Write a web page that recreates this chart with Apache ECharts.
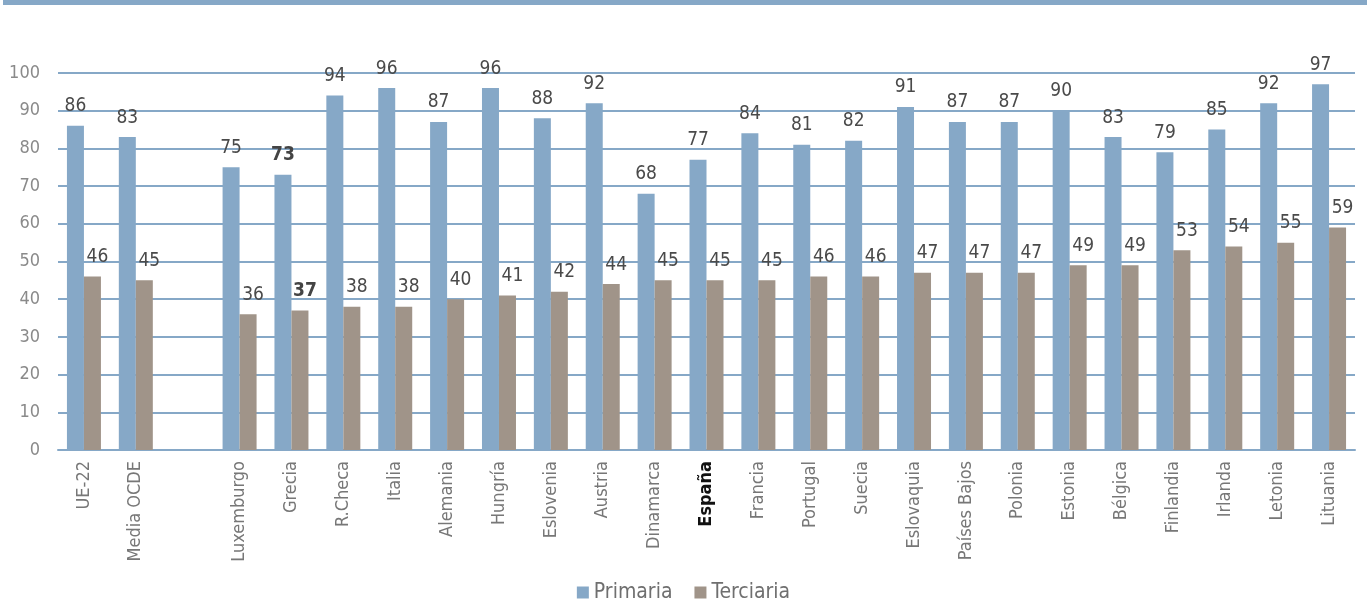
<!DOCTYPE html>
<html>
<head>
<meta charset="utf-8">
<script src="https://cdn.jsdelivr.net/npm/echarts@6/dist/echarts.min.js"></script>
<style>
  html, body { margin: 0; padding: 0; background: #fff; }
  #main { width: 1367px; height: 602px; }
</style>
</head>
<body>
<div id="main"></div>
<script>
// categories (empty slot between the averages and the countries)
var paises = ['UE-22', 'Media OCDE', '', 'Luxemburgo', 'Grecia', 'R.Checa', 'Italia', 'Alemania',
  'Hungría', 'Eslovenia', 'Austria', 'Dinamarca', 'España', 'Francia', 'Portugal', 'Suecia',
  'Eslovaquia', 'Países Bajos', 'Polonia', 'Estonia', 'Bélgica', 'Finlandia', 'Irlanda',
  'Letonia', 'Lituania'];

var primaria = [86, 83, null, 75, 73, 94, 96, 87, 96, 88, 92, 68, 77, 84, 81, 82, 91, 87, 87, 90, 83, 79, 85, 92, 97];
var terciaria = [46, 45, null, 36, 37, 38, 38, 40, 41, 42, 44, 45, 45, 45, 46, 46, 47, 47, 47, 49, 49, 53, 54, 55, 59];

var yTicks = [0, 10, 20, 30, 40, 50, 60, 70, 80, 90, 100];

var FONT = '"Liberation Sans Narrow", "DejaVu Sans Condensed", "Liberation Sans", sans-serif';
var AZUL = '#86a8c7';
var GRIS = '#a09489';

// Grecia labels appear in bold in the original
function conEtiquetas(vals) {
  return vals.map(function (v, i) {
    if (paises[i] === 'Grecia') {
      return { value: v, label: { fontWeight: 'bold', color: '#444' } };
    }
    return v;
  });
}

var chartDom = document.getElementById('main');
var myChart = echarts.init(chartDom);
var option;

option = {
  animation: false,
  textStyle: { fontFamily: FONT },
  graphic: [
    { type: 'rect', left: 3, top: 0, shape: { width: 1364, height: 5 }, style: { fill: AZUL } }
  ],
  grid: {
    left: 58,
    right: 12,
    top: 73,
    bottom: 152
  },
  legend: {
    data: ['Primaria', 'Terciaria'],
    top: 577,
    left: 'center',
    icon: 'rect',
    itemWidth: 12,
    itemHeight: 12,
    itemGap: 22,
    textStyle: { fontFamily: FONT, fontSize: 21, color: '#6f6f6f' }
  },
  xAxis: {
    type: 'category',
    data: paises,
    axisTick: { show: false },
    axisLine: { lineStyle: { color: AZUL, width: 2 } },
    axisLabel: {
      interval: 0,
      rotate: 90,
      margin: 11,
      fontFamily: FONT,
      fontSize: 18,
      color: '#777',
      formatter: function (v) {
        return v === 'España' ? '{b|' + v + '}' : v;
      },
      rich: {
        b: { fontFamily: FONT, fontSize: 18, fontWeight: 'bold', color: '#111' }
      }
    }
  },
  yAxis: {
    type: 'value',
    min: yTicks[0],
    max: yTicks[yTicks.length - 1],
    interval: 10,
    axisLine: { show: false },
    axisTick: { show: false },
    axisLabel: {
      margin: 18,
      fontFamily: FONT,
      fontSize: 18,
      color: '#8a8a8a'
    },
    splitLine: { lineStyle: { color: AZUL, width: 2 } }
  },
  series: [
    {
      name: 'Primaria',
      type: 'bar',
      barWidth: 17,
      barGap: '0%',
      itemStyle: { color: AZUL },
      label: {
        show: true,
        position: 'top',
        distance: 10,
        fontFamily: FONT,
        fontSize: 19,
        color: '#4a4a4a'
      },
      data: conEtiquetas(primaria)
    },
    {
      name: 'Terciaria',
      type: 'bar',
      barWidth: 17,
      itemStyle: { color: GRIS },
      label: {
        show: true,
        position: 'top',
        distance: 10,
        offset: [5, 0],
        fontFamily: FONT,
        fontSize: 19,
        color: '#4a4a4a'
      },
      data: conEtiquetas(terciaria)
    }
  ]
};

option && myChart.setOption(option);
window.onresize = function () {
  myChart.resize();
};
</script>
</body>
</html>
